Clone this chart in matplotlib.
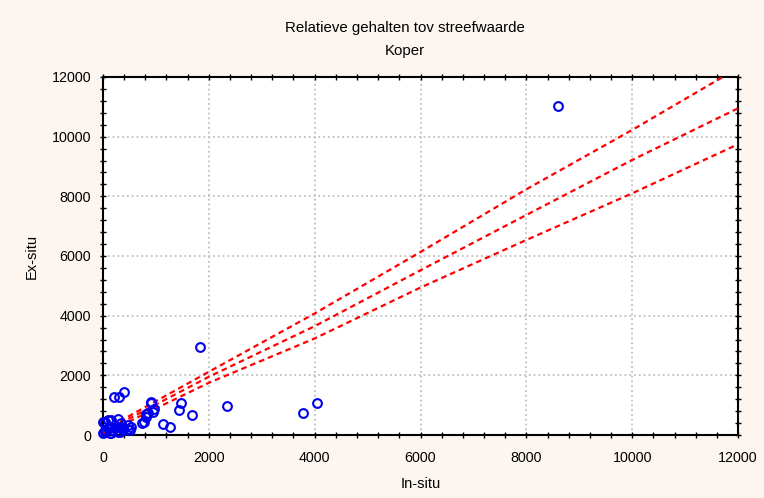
"""Koper: ex-situ vs in-situ scatter with regression line and bands"""
import matplotlib.pyplot as plt
from matplotlib.ticker import MultipleLocator

plt.rcParams['font.family'] = ['Liberation Sans', 'DejaVu Sans']

# measured points (in-situ, ex-situ)
in_situ = [8600, 1830, 2340, 3780, 4040, 1690, 1470, 1430, 1140, 1260,
           906, 968, 900, 850, 818, 943, 805, 768, 730,
           200, 300, 390,
           6, 100, 290, 130, 226, 320, 480, 510, 385, 38, 0, 160, 290,
           31, 157, 346, 252, 94, 189, 377, 472, 535, 31, 314, 126]
ex_situ = [11040, 2940, 980, 730, 1060, 670, 1060, 840, 358, 258,
           1083, 862, 1095, 748, 614, 781, 714, 446, 392,
           1280, 1290, 1450,
           446, 503, 526, 280, 224, 280, 335, 168, 168, 168, 57, 57, 111,
           446, 503, 392, 280, 224, 168, 224, 190, 280, 111, 111, 57]

# regression line and its bands
line_x = [0, 2000, 4000, 6000, 8000, 10000, 12000]
band_hi = [150, 2118, 4073, 6135, 8236, 10225, 12300]
fit_mid = [90, 1951, 3648, 5522, 7375, 9219, 10950]
band_lo = [30, 1750, 3236, 4943, 6537, 8100, 9745]

bg = '#fdf6f0'
fig = plt.figure(figsize=(7.64, 4.98), dpi=100, facecolor=bg)
ax = fig.add_axes([0.1348, 0.1265, 0.8312, 0.7189])
ax.set_facecolor('white')

for ys in (band_hi, fit_mid, band_lo):
    ax.plot(line_x, ys, color='red', lw=1.6, dashes=(2.5, 1.8), zorder=3)

ax.plot(in_situ, ex_situ, 'o', ms=6.3, mfc='none', mec='#0000ee', mew=1.5,
        zorder=4, clip_on=False)

ax.set_xlim(0, 12000)
ax.set_ylim(0, 12000)
for axis in (ax.xaxis, ax.yaxis):
    axis.set_major_locator(MultipleLocator(2000))
    axis.set_minor_locator(MultipleLocator(400))
ax.grid(True, which='major', color='#c0c0c0', ls=':', lw=1.3, zorder=0)
ax.tick_params(which='both', direction='inout', top=True, right=True,
               labelsize=10.3, colors='black', pad=6)
ax.tick_params(which='major', length=5, width=1)
ax.tick_params(which='minor', length=4, width=1)
ax.tick_params(axis='x', pad=9)
for sp in ax.spines.values():
    sp.set_linewidth(1.5)
    sp.set_color('black')

ax.set_xlabel('In-situ', fontsize=10.5, labelpad=9)
ax.set_ylabel('Ex-situ', fontsize=10.5, labelpad=9)

fig.text(0.530, 0.943, 'Relatieve gehalten tov streefwaarde', ha='center',
         va='center', fontsize=10.8)
fig.text(0.530, 0.898, 'Koper', ha='center', va='center', fontsize=10.8)

fig.savefig('out.png', dpi=100, facecolor=bg)
